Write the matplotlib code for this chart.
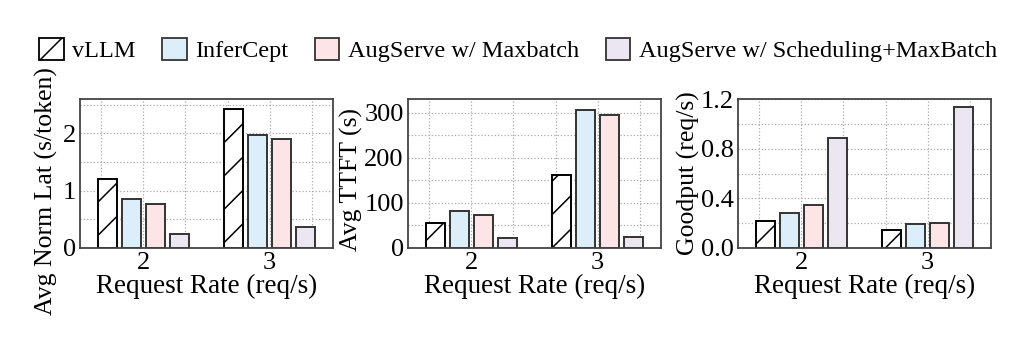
import matplotlib
matplotlib.use("Agg")
import matplotlib.pyplot as plt
from matplotlib.patches import Patch
from matplotlib.ticker import MultipleLocator
import numpy as np

plt.rcParams['font.family'] = ['Liberation Serif', 'DejaVu Serif']
plt.rcParams['hatch.linewidth'] = 1.1

rates = ['2', '3']
systems = ['vLLM', 'InferCept', 'AugServe w/ Maxbatch', 'AugServe w/ Scheduling+MaxBatch']
colors = ['white', '#ddeefb', '#fde4e6', '#ece6f3']
hatches = ['/', '', '', '']

norm_lat = [[1.20, 2.43], [0.86, 1.98], [0.76, 1.91], [0.25, 0.36]]
ttft = [[56, 161], [82, 306], [73, 295], [23, 24]]
goodput = [[0.22, 0.146], [0.278, 0.192], [0.343, 0.205], [0.886, 1.138]]

panels = [
    (norm_lat, 'Avg Norm Lat (s/token)', (0, 2.6), 1, 0.5, (-0.087, 0.38)),
    (ttft, 'Avg TTFT (s)', (0, 330), 100, 50, (-0.178, 0.46)),
    (goodput, 'Goodput (req/s)', (0, 1.2), 0.4, 0.2, (-0.15, 0.5)),
]

fig = plt.figure(figsize=(10.36, 3.38), dpi=100)
lefts = [80, 408, 738]
x = np.arange(len(rates))
width = 0.15
offsets = [-0.285, -0.095, 0.095, 0.285]

for (data, ylabel, ylim, major, minor, lc), left in zip(panels, lefts):
    ax = fig.add_axes([left / 1036, 1 - 248 / 338, 253 / 1036, 149 / 338])
    ax.set_axisbelow(True)
    for i, vals in enumerate(data):
        ax.bar(x + offsets[i], vals, width, color=colors[i], hatch=hatches[i],
               edgecolor='black' if i == 0 else '#333333', linewidth=1.4)
    ax.set_xlim(-0.5, 1.5)
    ax.set_ylim(*ylim)
    ax.set_xticks(x)
    ax.set_xticklabels(rates)
    ax.xaxis.set_minor_locator(MultipleLocator(1 / 3))
    ax.yaxis.set_major_locator(MultipleLocator(major))
    ax.yaxis.set_minor_locator(MultipleLocator(minor))
    ax.grid(True, which='both', linestyle=':', color='#aaaaaa', linewidth=0.9)
    ax.tick_params(which='both', length=0, labelsize=19, pad=3)
    ax.set_xlabel('Request Rate (req/s)', fontsize=19.5, labelpad=0)
    ax.set_ylabel(ylabel, fontsize=18.5)
    ax.yaxis.set_label_coords(*lc)
    for s in ax.spines.values():
        s.set_color('#444444')
        s.set_linewidth(1.3)

handles = [Patch(facecolor=colors[i], hatch=hatches[i],
                 edgecolor='black' if i == 0 else '#333333', linewidth=1.3)
           for i in range(len(systems))]
fig.legend(handles, systems, loc='center', bbox_to_anchor=(0.5, 1 - 50 / 338),
           ncol=4, frameon=False, fontsize=17.5, handlelength=1.0, handleheight=1.0,
           handletextpad=0.35, columnspacing=1.1)

fig.savefig('out.png', dpi=100)
